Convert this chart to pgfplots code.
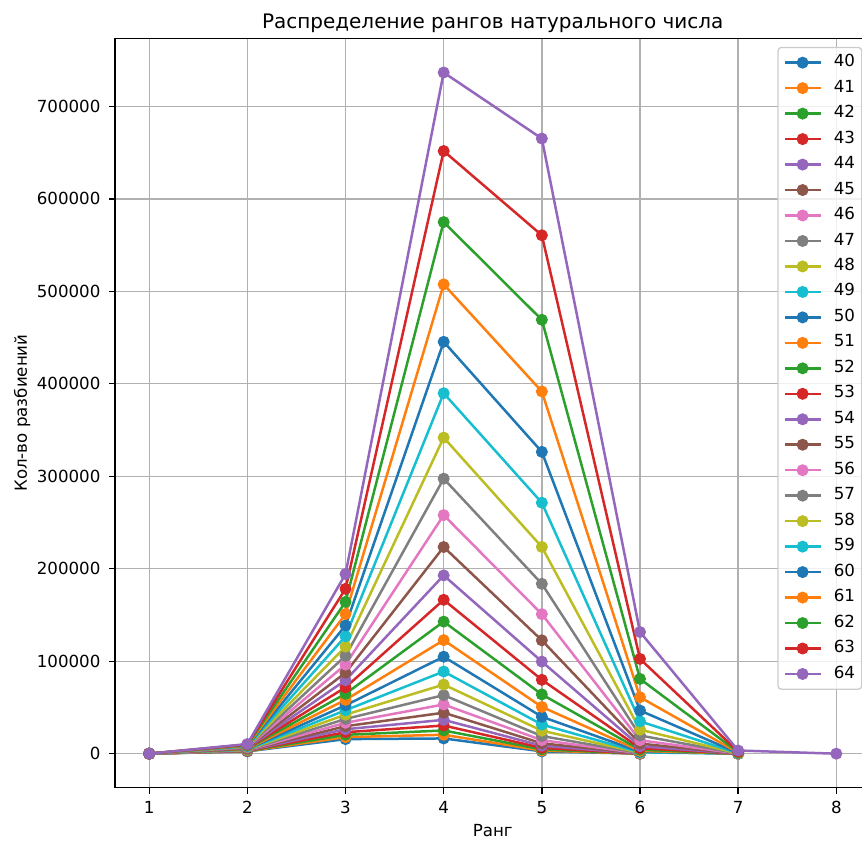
\documentclass[border=0pt]{standalone}
\usepackage{fontspec}
\setmainfont{DejaVu Sans}
\usepackage{pgfplots}
\pgfplotsset{compat=1.18}
\definecolor{C0}{HTML}{1F77B4}
\definecolor{C1}{HTML}{FF7F0E}
\definecolor{C2}{HTML}{2CA02C}
\definecolor{C3}{HTML}{D62728}
\definecolor{C4}{HTML}{9467BD}
\definecolor{C5}{HTML}{8C564B}
\definecolor{C6}{HTML}{E377C2}
\definecolor{C7}{HTML}{7F7F7F}
\definecolor{C8}{HTML}{BCBD22}
\definecolor{C9}{HTML}{17BECF}
\definecolor{gridc}{HTML}{B0B0B0}
\definecolor{legc}{HTML}{CCCCCC}
\pgfplotsset{ser/.style={color=#1, line width=1.5pt, line join=round, mark=*, mark size=3.3pt, mark options={solid, fill=#1, line width=0.6pt}}}
\begin{document}
\begin{tikzpicture}
\begin{axis}[
  name=ax,
  scale only axis, width=454pt, height=450.1pt,
  xmin=0.65, xmax=8.35, ymin=-36829, ymax=773430,
  xtick={1,2,3,4,5,6,7,8},
  ytick={0,100000,200000,300000,400000,500000,600000,700000},
  scaled y ticks=false,
  /pgf/number format/.cd, fixed, precision=0, 1000 sep={}, assume math mode=true,
  /pgfplots/.cd,
  tick align=outside, major tick length=3.5pt, tick pos=left,
  every tick/.style={black, line width=0.8pt},
  axis line style={black, line width=0.8pt},
  grid=major, major grid style={color=gridc, line width=0.8pt},
  tick label style={font=\fontsize{10}{12}\selectfont},
  xticklabel style={inner sep=0pt, anchor=north, yshift=-4.5pt},
  yticklabel style={inner sep=0pt, anchor=east, xshift=-5pt},
  title={Распределение рангов натурального числа},
  title style={font=\fontsize{12}{14}\selectfont, inner sep=0pt, at={(axis description cs:0.5,1)}, anchor=base, yshift=0pt},
  xlabel={Ранг},
  xlabel style={font=\fontsize{10}{12}\selectfont, inner sep=0pt, at={(axis description cs:0.5,0)}, anchor=base, yshift=-29.5pt},
  ylabel={Кол-во разбиений},
  ylabel style={font=\fontsize{10}{12}\selectfont, inner sep=0pt, at={(axis description cs:0,0.5)}, anchor=base, yshift=52.8pt},
  legend cell align=left,
  legend image code/.code={\draw[#1, fill opacity=1, draw opacity=1, line cap=rect, mark repeat=2, mark phase=2] plot coordinates {(0pt,0pt) (10pt,0pt) (20pt,0pt)};},
  legend style={at={(1,1)}, anchor=north east, xshift=-5pt, yshift=-5pt,
    draw=legc, line width=0.8pt, rounded corners=2pt, fill=white, fill opacity=0.8, draw opacity=1, text opacity=1,
    inner xsep=4pt, inner ysep=4pt, row sep=5pt, column sep=8pt,
    font=\fontsize{10}{12}\selectfont,
    nodes={inner sep=0pt, text height=7.6pt, text depth=2.7pt}},
]
\addplot[ser=C0] coordinates {(1,40) (2,2470) (3,15778) (4,16494) (5,2536) (6,20)};
\addlegendentry{40}
\addplot[ser=C1] coordinates {(1,41) (2,2660) (3,17952) (4,20454) (5,3440) (6,36)};
\addlegendentry{41}
\addplot[ser=C2] coordinates {(1,42) (2,2870) (3,20426) (4,25104) (5,4667) (6,65)};
\addlegendentry{42}
\addplot[ser=C3] coordinates {(1,43) (2,3080) (3,23241) (4,30459) (5,6330) (6,108)};
\addlegendentry{43}
\addplot[ser=C4] coordinates {(1,44) (2,3311) (3,26446) (4,36609) (5,8586) (6,179)};
\addlegendentry{44}
\addplot[ser=C5] coordinates {(1,45) (2,3542) (3,29728) (4,44331) (5,11204) (6,284)};
\addlegendentry{45}
\addplot[ser=C6] coordinates {(1,46) (2,3795) (3,33418) (4,53234) (5,14620) (6,445)};
\addlegendentry{46}
\addplot[ser=C7] coordinates {(1,47) (2,4048) (3,37565) (4,63340) (5,19078) (6,676)};
\addlegendentry{47}
\addplot[ser=C8] coordinates {(1,48) (2,4324) (3,42224) (4,74770) (5,24890) (6,1017)};
\addlegendentry{48}
\addplot[ser=C9] coordinates {(1,49) (2,4600) (3,46991) (4,88863) (5,31529) (6,1492) (7,1)};
\addlegendentry{49}
\addplot[ser=C0] coordinates {(1,50) (2,4900) (3,52296) (4,104872) (5,39938) (6,2168) (7,2)};
\addlegendentry{50}
\addplot[ser=C1] coordinates {(1,51) (2,5200) (3,58200) (4,122803) (5,50590) (6,3094) (7,5)};
\addlegendentry{51}
\addplot[ser=C2] coordinates {(1,52) (2,5525) (3,64752) (4,142826) (5,64092) (6,4332) (7,10)};
\addlegendentry{52}
\addplot[ser=C3] coordinates {(1,53) (2,5850) (3,71746) (4,166400) (5,79900) (6,5978) (7,20)};
\addlegendentry{53}
\addplot[ser=C4] coordinates {(1,54) (2,6201) (3,79442) (4,192800) (5,99600) (6,8130) (7,36)};
\addlegendentry{54}
\addplot[ser=C5] coordinates {(1,55) (2,6552) (3,87538) (4,223500) (5,122600) (6,10935) (7,65)};
\addlegendentry{55}
\addplot[ser=C6] coordinates {(1,56) (2,6930) (3,96334) (4,258000) (5,150900) (6,14543) (7,110)};
\addlegendentry{56}
\addplot[ser=C7] coordinates {(1,57) (2,7308) (3,105830) (4,297400) (5,183700) (6,19700) (7,183)};
\addlegendentry{57}
\addplot[ser=C8] coordinates {(1,58) (2,7714) (3,115726) (4,341800) (5,223600) (6,26000) (7,294)};
\addlegendentry{58}
\addplot[ser=C9] coordinates {(1,59) (2,8120) (3,126922) (4,389800) (5,271400) (6,35000) (7,465)};
\addlegendentry{59}
\addplot[ser=C0] coordinates {(1,60) (2,8555) (3,138618) (4,445400) (5,326400) (6,46700) (7,716)};
\addlegendentry{60}
\addplot[ser=C1] coordinates {(1,61) (2,8990) (3,151014) (4,507500) (5,391700) (6,61100) (7,1089)};
\addlegendentry{61}
\addplot[ser=C2] coordinates {(1,62) (2,9455) (3,164110) (4,574900) (5,469200) (6,80900) (7,1622)};
\addlegendentry{62}
\addplot[ser=C3] coordinates {(1,63) (2,9920) (3,178306) (4,651700) (5,560600) (6,102500) (7,2387)};
\addlegendentry{63}
\addplot[ser=C4] coordinates {(1,64) (2,10416) (3,194282) (4,736600) (5,665200) (6,131600) (7,3458) (8,1)};
\addlegendentry{64}
\end{axis}
\pgfresetboundingbox
\path[use as bounding box] ([xshift=-69pt,yshift=-32.3pt]ax.south west) rectangle ([xshift=-5.2pt,yshift=23.1pt]ax.north east);
\end{tikzpicture}
\end{document}
